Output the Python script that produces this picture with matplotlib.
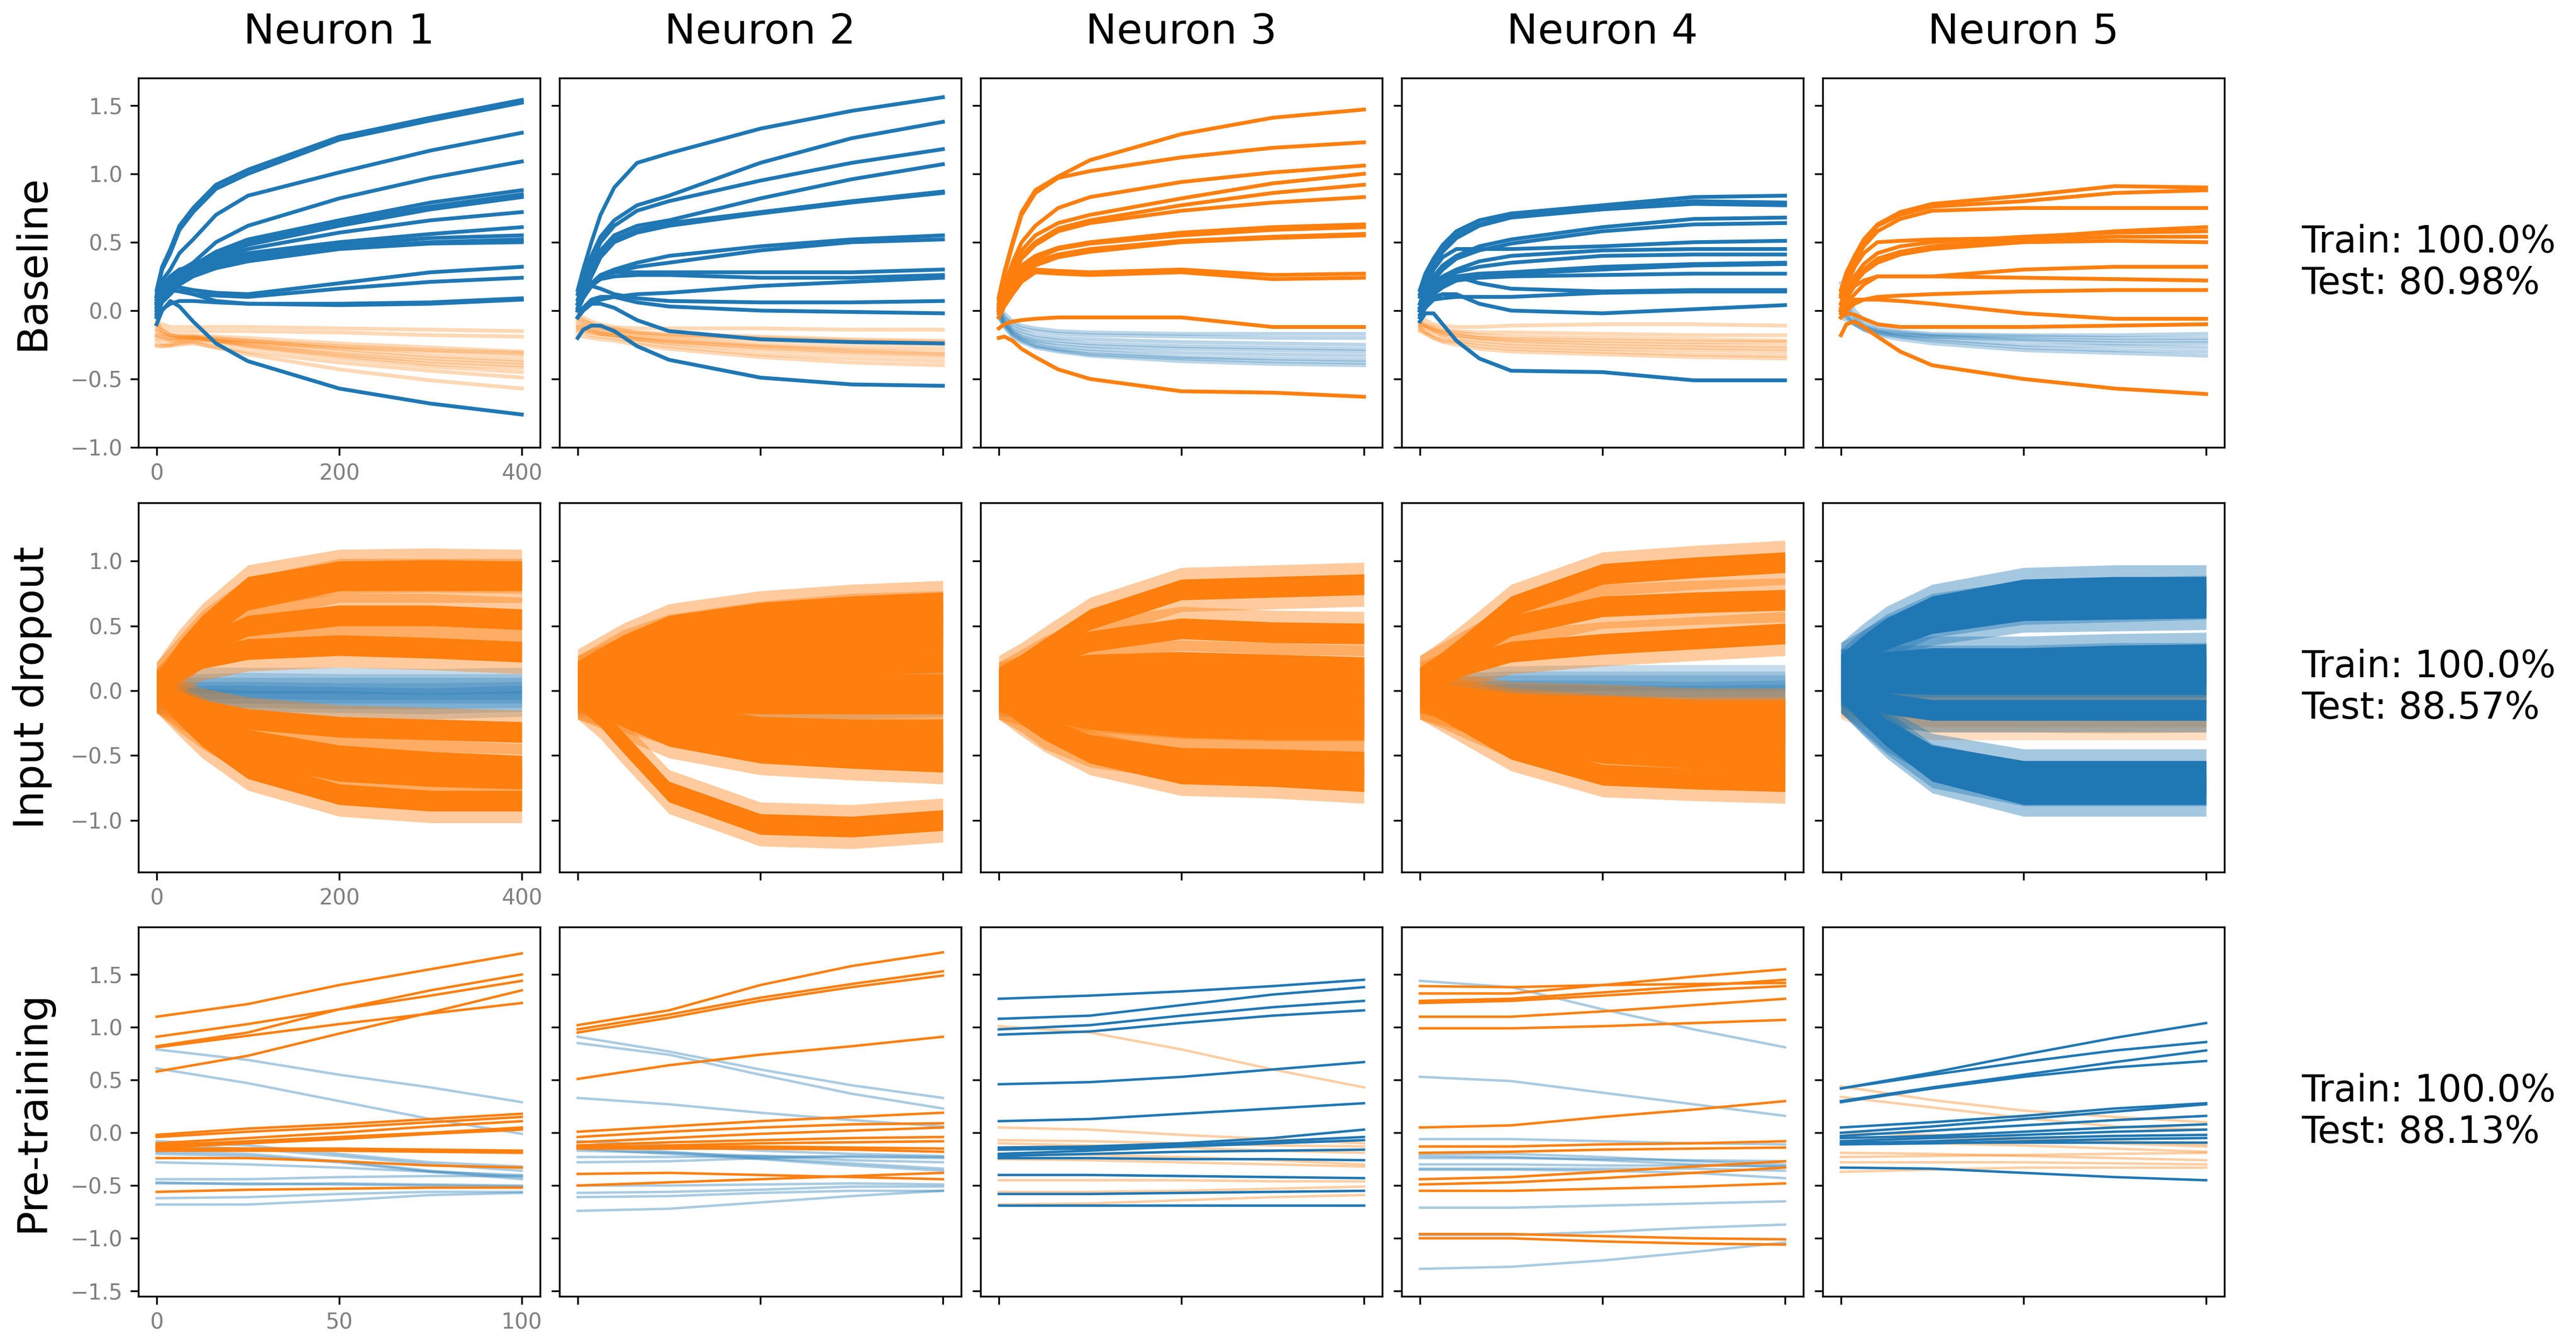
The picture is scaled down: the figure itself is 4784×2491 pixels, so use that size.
import matplotlib
matplotlib.use("Agg")
import matplotlib.pyplot as plt

BLUE = "#1f77b4"
ORANGE = "#ff7f0e"

neurons = ["Neuron 1", "Neuron 2", "Neuron 3", "Neuron 4", "Neuron 5"]
row_names = ["Baseline", "Input dropout", "Pre-training"]
scores = ["Train: 100.0%\nTest: 80.98%",
          "Train: 100.0%\nTest: 88.57%",
          "Train: 100.0%\nTest: 88.13%"]

base_epochs = [0, 6, 15, 25, 40, 65, 100, 200, 300, 400]
drop_epochs = [0, 25, 50, 100, 200, 300, 400]
pre_epochs = [0, 25, 50, 75, 100]

# ---------------- Baseline ----------------
base_n1_blue = [
    [0.15, 0.32, 0.45, 0.62, 0.75, 0.92, 1.03, 1.27, 1.41, 1.54],
    [0.12, 0.30, 0.42, 0.59, 0.72, 0.89, 1.00, 1.25, 1.39, 1.52],
    [0.10, 0.22, 0.30, 0.42, 0.52, 0.70, 0.84, 1.01, 1.17, 1.30],
    [0.05, 0.15, 0.22, 0.29, 0.35, 0.50, 0.62, 0.82, 0.97, 1.09],
    [0.02, 0.16, 0.25, 0.30, 0.33, 0.43, 0.52, 0.66, 0.79, 0.88],
    [0.00, 0.14, 0.22, 0.27, 0.31, 0.41, 0.50, 0.64, 0.76, 0.85],
    [-0.02, 0.12, 0.20, 0.26, 0.30, 0.40, 0.48, 0.62, 0.74, 0.83],
    [0.05, 0.13, 0.18, 0.25, 0.30, 0.38, 0.45, 0.57, 0.66, 0.72],
    [0.08, 0.18, 0.25, 0.30, 0.32, 0.37, 0.42, 0.50, 0.56, 0.61],
    [0.03, 0.13, 0.20, 0.26, 0.30, 0.35, 0.40, 0.48, 0.53, 0.55],
    [0.00, 0.09, 0.15, 0.22, 0.28, 0.33, 0.38, 0.46, 0.50, 0.52],
    [-0.03, 0.06, 0.12, 0.19, 0.25, 0.31, 0.36, 0.45, 0.49, 0.50],
    [0.10, 0.15, 0.18, 0.17, 0.15, 0.13, 0.12, 0.20, 0.28, 0.32],
    [0.06, 0.12, 0.15, 0.14, 0.12, 0.11, 0.10, 0.16, 0.21, 0.24],
    [0.08, 0.15, 0.20, 0.17, 0.12, 0.07, 0.05, 0.05, 0.06, 0.09],
    [-0.05, 0.01, 0.05, 0.07, 0.07, 0.06, 0.05, 0.04, 0.05, 0.08],
    [-0.10, 0.00, 0.07, 0.03, -0.08, -0.24, -0.37, -0.57, -0.68, -0.76],
]
base_n1_orange = [
    [-0.08, -0.10, -0.12, -0.12, -0.12, -0.12, -0.12, -0.13, -0.14, -0.15],
    [-0.10, -0.13, -0.15, -0.15, -0.15, -0.15, -0.15, -0.16, -0.18, -0.19],
    [-0.12, -0.15, -0.18, -0.18, -0.18, -0.19, -0.20, -0.24, -0.27, -0.30],
    [-0.15, -0.17, -0.18, -0.19, -0.20, -0.21, -0.22, -0.26, -0.29, -0.31],
    [-0.18, -0.19, -0.20, -0.20, -0.20, -0.22, -0.24, -0.30, -0.35, -0.38],
    [-0.20, -0.21, -0.22, -0.21, -0.20, -0.22, -0.25, -0.32, -0.37, -0.40],
    [-0.10, -0.14, -0.18, -0.19, -0.19, -0.22, -0.26, -0.33, -0.39, -0.42],
    [-0.22, -0.24, -0.25, -0.23, -0.22, -0.24, -0.27, -0.35, -0.41, -0.45],
    [-0.25, -0.26, -0.26, -0.25, -0.24, -0.27, -0.30, -0.38, -0.44, -0.49],
    [-0.26, -0.26, -0.25, -0.24, -0.23, -0.27, -0.32, -0.43, -0.51, -0.57],
    [-0.14, -0.17, -0.20, -0.20, -0.19, -0.20, -0.22, -0.28, -0.33, -0.36],
    [-0.18, -0.20, -0.22, -0.22, -0.21, -0.22, -0.23, -0.27, -0.30, -0.33],
]
base_n2_blue = [
    [0.15, 0.30, 0.50, 0.70, 0.90, 1.08, 1.15, 1.33, 1.46, 1.56],
    [0.12, 0.25, 0.40, 0.54, 0.66, 0.77, 0.84, 1.08, 1.26, 1.38],
    [0.08, 0.20, 0.35, 0.50, 0.62, 0.73, 0.80, 0.95, 1.08, 1.18],
    [0.05, 0.16, 0.30, 0.44, 0.55, 0.62, 0.66, 0.82, 0.96, 1.07],
    [0.05, 0.15, 0.28, 0.41, 0.52, 0.59, 0.64, 0.72, 0.80, 0.87],
    [0.02, 0.13, 0.25, 0.39, 0.50, 0.57, 0.62, 0.71, 0.79, 0.86],
    [0.05, 0.12, 0.20, 0.26, 0.30, 0.35, 0.40, 0.47, 0.52, 0.55],
    [0.00, 0.09, 0.18, 0.24, 0.28, 0.32, 0.35, 0.44, 0.50, 0.52],
    [0.02, 0.12, 0.20, 0.25, 0.28, 0.28, 0.28, 0.28, 0.28, 0.30],
    [0.00, 0.10, 0.18, 0.23, 0.25, 0.26, 0.26, 0.24, 0.24, 0.26],
    [-0.05, 0.00, 0.05, 0.08, 0.10, 0.12, 0.13, 0.18, 0.21, 0.24],
    [0.00, 0.10, 0.18, 0.16, 0.12, 0.09, 0.07, 0.06, 0.06, 0.07],
    [-0.05, 0.02, 0.08, 0.10, 0.10, 0.06, 0.03, 0.00, -0.01, -0.02],
    [-0.05, 0.00, 0.05, 0.05, 0.02, -0.07, -0.15, -0.21, -0.23, -0.24],
    [-0.20, -0.14, -0.11, -0.11, -0.15, -0.26, -0.36, -0.49, -0.54, -0.55],
]
base_n2_orange = [
    [-0.02, -0.05, -0.08, -0.10, -0.12, -0.13, -0.13, -0.13, -0.14, -0.14],
    [-0.05, -0.07, -0.10, -0.12, -0.14, -0.16, -0.17, -0.19, -0.21, -0.22],
    [-0.08, -0.10, -0.12, -0.14, -0.15, -0.17, -0.19, -0.22, -0.24, -0.25],
    [-0.10, -0.11, -0.13, -0.15, -0.16, -0.19, -0.21, -0.25, -0.27, -0.28],
    [-0.12, -0.13, -0.15, -0.17, -0.18, -0.20, -0.22, -0.26, -0.29, -0.31],
    [-0.14, -0.15, -0.16, -0.17, -0.18, -0.21, -0.24, -0.29, -0.32, -0.34],
    [-0.15, -0.16, -0.18, -0.19, -0.20, -0.23, -0.26, -0.32, -0.35, -0.37],
    [-0.18, -0.19, -0.20, -0.21, -0.22, -0.25, -0.28, -0.34, -0.38, -0.40],
    [-0.06, -0.08, -0.10, -0.12, -0.13, -0.16, -0.18, -0.20, -0.22, -0.23],
    [-0.12, -0.13, -0.15, -0.17, -0.18, -0.21, -0.23, -0.27, -0.30, -0.32],
]
base_n3_orange = [
    [0.10, 0.28, 0.50, 0.72, 0.88, 0.98, 1.10, 1.29, 1.41, 1.47],
    [0.08, 0.26, 0.48, 0.70, 0.86, 0.97, 1.02, 1.12, 1.19, 1.23],
    [0.05, 0.18, 0.35, 0.50, 0.62, 0.75, 0.83, 0.94, 1.01, 1.06],
    [0.03, 0.15, 0.30, 0.44, 0.55, 0.64, 0.70, 0.82, 0.93, 1.00],
    [0.02, 0.14, 0.28, 0.40, 0.50, 0.60, 0.66, 0.77, 0.86, 0.92],
    [0.00, 0.12, 0.25, 0.38, 0.48, 0.58, 0.64, 0.73, 0.79, 0.83],
    [0.05, 0.15, 0.25, 0.33, 0.40, 0.46, 0.50, 0.57, 0.61, 0.63],
    [0.00, 0.11, 0.22, 0.31, 0.38, 0.45, 0.49, 0.55, 0.59, 0.61],
    [0.00, 0.10, 0.20, 0.29, 0.36, 0.41, 0.45, 0.51, 0.54, 0.56],
    [-0.05, 0.06, 0.18, 0.26, 0.33, 0.39, 0.43, 0.50, 0.53, 0.55],
    [-0.02, 0.06, 0.15, 0.24, 0.30, 0.29, 0.28, 0.30, 0.26, 0.27],
    [-0.05, 0.03, 0.12, 0.21, 0.28, 0.27, 0.26, 0.28, 0.23, 0.24],
    [-0.13, -0.10, -0.08, -0.07, -0.06, -0.05, -0.05, -0.05, -0.12, -0.12],
    [-0.20, -0.19, -0.22, -0.28, -0.34, -0.43, -0.50, -0.59, -0.60, -0.63],
]
base_n3_blue = [
    [0.05, -0.02, -0.08, -0.11, -0.13, -0.15, -0.16, -0.17, -0.17, -0.17],
    [0.00, -0.05, -0.10, -0.13, -0.15, -0.17, -0.18, -0.19, -0.20, -0.20],
    [0.02, -0.05, -0.12, -0.15, -0.18, -0.20, -0.21, -0.23, -0.24, -0.25],
    [-0.02, -0.08, -0.14, -0.17, -0.20, -0.22, -0.24, -0.26, -0.27, -0.28],
    [0.00, -0.08, -0.15, -0.19, -0.22, -0.24, -0.26, -0.28, -0.29, -0.30],
    [-0.05, -0.10, -0.16, -0.20, -0.23, -0.26, -0.28, -0.31, -0.32, -0.33],
    [0.00, -0.09, -0.17, -0.21, -0.25, -0.28, -0.30, -0.34, -0.35, -0.36],
    [-0.03, -0.11, -0.18, -0.22, -0.26, -0.29, -0.32, -0.35, -0.37, -0.38],
    [-0.05, -0.12, -0.19, -0.23, -0.27, -0.30, -0.33, -0.37, -0.39, -0.40],
]
base_n4_blue = [
    [0.15, 0.27, 0.38, 0.48, 0.58, 0.66, 0.71, 0.77, 0.83, 0.84],
    [0.12, 0.24, 0.35, 0.45, 0.55, 0.63, 0.69, 0.75, 0.80, 0.79],
    [0.10, 0.22, 0.33, 0.43, 0.53, 0.62, 0.68, 0.74, 0.78, 0.77],
    [0.05, 0.15, 0.25, 0.33, 0.40, 0.47, 0.52, 0.61, 0.67, 0.68],
    [0.02, 0.12, 0.22, 0.30, 0.38, 0.44, 0.49, 0.58, 0.63, 0.64],
    [0.05, 0.18, 0.30, 0.39, 0.45, 0.45, 0.45, 0.47, 0.50, 0.51],
    [0.00, 0.10, 0.20, 0.25, 0.30, 0.36, 0.40, 0.44, 0.45, 0.45],
    [0.00, 0.09, 0.18, 0.23, 0.28, 0.32, 0.35, 0.40, 0.41, 0.41],
    [0.00, 0.08, 0.15, 0.20, 0.25, 0.27, 0.28, 0.32, 0.34, 0.35],
    [-0.03, 0.05, 0.12, 0.17, 0.22, 0.25, 0.27, 0.30, 0.33, 0.34],
    [0.00, 0.08, 0.15, 0.19, 0.22, 0.24, 0.25, 0.26, 0.27, 0.27],
    [0.02, 0.07, 0.12, 0.19, 0.25, 0.20, 0.16, 0.14, 0.15, 0.15],
    [-0.05, 0.02, 0.08, 0.09, 0.10, 0.10, 0.10, 0.13, 0.14, 0.14],
    [0.00, 0.05, 0.10, 0.12, 0.12, 0.05, 0.00, -0.02, 0.01, 0.04],
    [-0.08, -0.02, -0.02, -0.10, -0.22, -0.35, -0.44, -0.45, -0.51, -0.51],
]
base_n4_orange = [
    [-0.05, -0.07, -0.10, -0.11, -0.12, -0.12, -0.11, -0.10, -0.10, -0.11],
    [-0.08, -0.10, -0.12, -0.14, -0.15, -0.16, -0.16, -0.17, -0.18, -0.18],
    [-0.10, -0.11, -0.13, -0.15, -0.16, -0.18, -0.19, -0.20, -0.21, -0.22],
    [-0.12, -0.13, -0.15, -0.17, -0.18, -0.20, -0.21, -0.22, -0.23, -0.23],
    [-0.10, -0.12, -0.15, -0.18, -0.20, -0.22, -0.24, -0.26, -0.27, -0.28],
    [-0.14, -0.16, -0.18, -0.20, -0.22, -0.24, -0.26, -0.28, -0.29, -0.30],
    [-0.15, -0.17, -0.20, -0.22, -0.23, -0.26, -0.28, -0.30, -0.32, -0.33],
    [-0.12, -0.16, -0.20, -0.23, -0.25, -0.28, -0.30, -0.32, -0.34, -0.35],
    [-0.08, -0.11, -0.14, -0.16, -0.18, -0.20, -0.22, -0.24, -0.25, -0.26],
]
base_n5_orange = [
    [0.15, 0.28, 0.40, 0.52, 0.63, 0.72, 0.78, 0.84, 0.91, 0.90],
    [0.12, 0.25, 0.38, 0.50, 0.62, 0.70, 0.76, 0.80, 0.86, 0.88],
    [0.10, 0.23, 0.36, 0.47, 0.58, 0.67, 0.73, 0.75, 0.75, 0.75],
    [0.05, 0.18, 0.32, 0.42, 0.50, 0.51, 0.52, 0.53, 0.58, 0.61],
    [0.00, 0.12, 0.25, 0.34, 0.42, 0.47, 0.50, 0.54, 0.57, 0.58],
    [0.02, 0.12, 0.22, 0.30, 0.38, 0.43, 0.47, 0.52, 0.54, 0.54],
    [-0.02, 0.09, 0.20, 0.28, 0.35, 0.41, 0.45, 0.50, 0.51, 0.50],
    [0.00, 0.09, 0.18, 0.22, 0.25, 0.25, 0.25, 0.30, 0.32, 0.32],
    [0.00, 0.06, 0.12, 0.19, 0.25, 0.25, 0.25, 0.24, 0.23, 0.22],
    [-0.05, 0.00, 0.05, 0.08, 0.10, 0.11, 0.12, 0.14, 0.15, 0.15],
    [-0.05, 0.02, 0.08, 0.08, 0.08, 0.07, 0.05, -0.02, -0.06, -0.06],
    [-0.05, -0.02, -0.03, -0.06, -0.10, -0.12, -0.12, -0.12, -0.11, -0.10],
    [-0.18, -0.10, -0.08, -0.12, -0.19, -0.30, -0.40, -0.50, -0.57, -0.61],
]
base_n5_blue = [
    [0.20, 0.10, 0.00, -0.07, -0.12, -0.15, -0.17, -0.18, -0.18, -0.17],
    [0.10, 0.03, -0.05, -0.10, -0.14, -0.16, -0.18, -0.19, -0.20, -0.20],
    [0.00, -0.04, -0.08, -0.12, -0.15, -0.17, -0.19, -0.21, -0.22, -0.22],
    [0.05, -0.02, -0.10, -0.13, -0.16, -0.18, -0.19, -0.22, -0.24, -0.24],
    [-0.05, -0.07, -0.10, -0.14, -0.17, -0.19, -0.21, -0.25, -0.26, -0.27],
    [0.15, 0.05, -0.05, -0.11, -0.15, -0.19, -0.22, -0.27, -0.29, -0.30],
    [0.00, -0.05, -0.10, -0.14, -0.18, -0.21, -0.24, -0.29, -0.31, -0.33],
]

# ---------------- Input dropout (centre of each noisy trace) ----------------
drop_n1_orange = [
    [0.05, 0.30, 0.50, 0.80, 0.92, 0.93, 0.92],
    [0.05, 0.25, 0.45, 0.70, 0.85, 0.85, 0.85],
    [0.00, 0.20, 0.35, 0.50, 0.58, 0.58, 0.55],
    [0.00, 0.15, 0.25, 0.32, 0.35, 0.33, 0.30],
    [0.00, -0.08, -0.15, -0.22, -0.28, -0.30, -0.32],
    [0.00, -0.12, -0.22, -0.38, -0.50, -0.55, -0.58],
    [0.00, -0.15, -0.28, -0.48, -0.62, -0.66, -0.68],
    [0.00, -0.18, -0.35, -0.60, -0.80, -0.85, -0.85],
]
drop_n1_blue = [
    [0.05, 0.07, 0.08, 0.08, 0.08, 0.07, 0.08],
    [0.02, 0.03, 0.03, 0.04, 0.03, 0.03, 0.03],
    [0.00, 0.00, 0.00, 0.00, 0.00, 0.00, 0.00],
    [-0.02, -0.03, -0.03, -0.03, -0.04, -0.04, -0.03],
    [-0.05, -0.06, -0.06, -0.06, -0.07, -0.08, -0.06],
    [-0.08, -0.08, -0.08, -0.10, -0.10, -0.12, -0.10],
]
drop_n2_orange = [
    [0.15, 0.25, 0.35, 0.50, 0.60, 0.65, 0.68],
    [0.10, 0.20, 0.30, 0.42, 0.52, 0.58, 0.60],
    [0.10, 0.18, 0.25, 0.35, 0.45, 0.50, 0.50],
    [0.05, 0.10, 0.15, 0.25, 0.30, 0.35, 0.38],
    [0.05, 0.08, 0.10, 0.12, 0.18, 0.20, 0.22],
    [0.00, 0.03, 0.05, 0.02, 0.05, 0.05, 0.05],
    [0.00, -0.03, -0.05, -0.08, -0.10, -0.10, -0.10],
    [0.00, -0.05, -0.10, -0.18, -0.28, -0.30, -0.30],
    [-0.05, -0.10, -0.15, -0.25, -0.38, -0.42, -0.45],
    [-0.05, -0.12, -0.20, -0.35, -0.48, -0.52, -0.55],
    [-0.05, -0.20, -0.40, -0.78, -1.03, -1.05, -1.00],
]
drop_n2_blue = [
    [0.05, 0.05, 0.05, 0.05, 0.06, 0.06, 0.05],
    [0.00, 0.00, 0.00, 0.00, 0.00, 0.00, 0.00],
    [-0.05, -0.05, -0.05, -0.06, -0.06, -0.07, -0.06],
    [-0.10, -0.10, -0.10, -0.10, -0.12, -0.12, -0.10],
]
drop_n3_orange = [
    [0.10, 0.20, 0.32, 0.55, 0.78, 0.80, 0.82],
    [0.05, 0.15, 0.25, 0.38, 0.48, 0.45, 0.44],
    [0.05, 0.10, 0.15, 0.20, 0.22, 0.20, 0.18],
    [0.00, 0.05, 0.08, 0.10, 0.08, 0.08, 0.08],
    [0.00, 0.00, 0.00, -0.02, 0.00, 0.00, -0.02],
    [0.00, -0.03, -0.05, -0.08, -0.10, -0.10, -0.10],
    [0.00, -0.05, -0.10, -0.15, -0.20, -0.22, -0.22],
    [-0.05, -0.10, -0.15, -0.22, -0.28, -0.30, -0.30],
    [-0.05, -0.15, -0.28, -0.42, -0.52, -0.53, -0.55],
    [-0.05, -0.18, -0.30, -0.48, -0.64, -0.66, -0.70],
]
drop_n3_blue = [
    [0.05, 0.05, 0.05, 0.05, 0.05, 0.05, 0.05],
    [0.00, 0.00, 0.00, 0.00, 0.00, 0.00, 0.00],
    [-0.05, -0.05, -0.06, -0.06, -0.07, -0.06, -0.06],
    [-0.10, -0.11, -0.12, -0.12, -0.14, -0.14, -0.12],
]
drop_n4_orange = [
    [0.10, 0.22, 0.36, 0.65, 0.90, 0.95, 0.99],
    [0.10, 0.20, 0.30, 0.50, 0.65, 0.68, 0.70],
    [0.05, 0.12, 0.20, 0.30, 0.36, 0.40, 0.44],
    [0.00, -0.03, -0.05, -0.10, -0.12, -0.15, -0.15],
    [0.00, -0.05, -0.08, -0.15, -0.20, -0.22, -0.22],
    [0.00, -0.06, -0.10, -0.18, -0.25, -0.28, -0.30],
    [-0.05, -0.10, -0.15, -0.25, -0.35, -0.38, -0.40],
    [-0.05, -0.12, -0.20, -0.35, -0.48, -0.52, -0.55],
    [-0.05, -0.15, -0.25, -0.45, -0.65, -0.68, -0.70],
]
drop_n4_blue = [
    [0.08, 0.08, 0.08, 0.09, 0.10, 0.10, 0.10],
    [0.04, 0.04, 0.04, 0.05, 0.05, 0.05, 0.05],
    [0.00, 0.00, 0.01, 0.02, 0.02, 0.02, 0.02],
    [-0.04, -0.04, -0.03, -0.02, -0.02, -0.03, -0.02],
    [-0.08, -0.07, -0.06, -0.05, -0.06, -0.06, -0.05],
]
drop_n5_blue = [
    [0.20, 0.35, 0.48, 0.65, 0.78, 0.80, 0.80],
    [0.15, 0.30, 0.42, 0.58, 0.68, 0.70, 0.72],
    [0.20, 0.30, 0.40, 0.52, 0.62, 0.63, 0.64],
    [0.15, 0.18, 0.22, 0.25, 0.25, 0.27, 0.28],
    [0.15, 0.16, 0.18, 0.18, 0.18, 0.20, 0.20],
    [0.10, 0.11, 0.12, 0.12, 0.12, 0.12, 0.12],
    [0.05, 0.06, 0.06, 0.05, 0.05, 0.05, 0.05],
    [0.05, -0.05, -0.10, -0.15, -0.15, -0.15, -0.15],
    [0.00, -0.15, -0.30, -0.50, -0.62, -0.62, -0.62],
    [0.00, -0.17, -0.32, -0.58, -0.72, -0.72, -0.72],
    [0.00, -0.18, -0.35, -0.62, -0.80, -0.80, -0.80],
]
drop_n5_orange = [
    [0.00, -0.01, -0.02, -0.02, -0.03, -0.02, -0.02],
    [-0.02, -0.04, -0.06, -0.08, -0.08, -0.08, -0.08],
    [-0.05, -0.08, -0.10, -0.12, -0.12, -0.13, -0.12],
    [-0.08, -0.12, -0.15, -0.18, -0.18, -0.18, -0.18],
    [-0.10, -0.15, -0.18, -0.22, -0.22, -0.23, -0.22],
    [-0.12, -0.18, -0.22, -0.28, -0.28, -0.28, -0.28],
]

# ---------------- Pre-training ----------------
pre_n1_orange = [
    [1.10, 1.22, 1.40, 1.55, 1.70],
    [0.91, 1.03, 1.17, 1.30, 1.44],
    [0.82, 0.95, 1.17, 1.35, 1.50],
    [0.81, 0.92, 1.03, 1.13, 1.23],
    [0.58, 0.73, 0.94, 1.14, 1.35],
    [-0.02, 0.04, 0.08, 0.13, 0.18],
    [-0.04, 0.01, 0.05, 0.10, 0.15],
    [-0.10, -0.05, 0.00, 0.06, 0.11],
    [-0.12, -0.08, -0.04, 0.00, 0.05],
    [-0.14, -0.10, -0.06, -0.01, 0.03],
    [-0.15, -0.15, -0.15, -0.16, -0.17],
    [-0.17, -0.17, -0.17, -0.18, -0.19],
    [-0.24, -0.24, -0.27, -0.31, -0.33],
    [-0.56, -0.54, -0.53, -0.52, -0.52],
]
pre_n1_blue = [
    [0.79, 0.69, 0.55, 0.43, 0.29],
    [0.61, 0.47, 0.30, 0.13, -0.01],
    [-0.08, -0.12, -0.20, -0.28, -0.32],
    [-0.12, -0.15, -0.22, -0.30, -0.36],
    [-0.18, -0.20, -0.27, -0.36, -0.42],
    [-0.20, -0.22, -0.28, -0.37, -0.44],
    [-0.28, -0.30, -0.33, -0.37, -0.40],
    [-0.44, -0.44, -0.42, -0.41, -0.41],
    [-0.47, -0.49, -0.48, -0.49, -0.50],
    [-0.48, -0.48, -0.49, -0.50, -0.51],
    [-0.62, -0.61, -0.58, -0.56, -0.56],
    [-0.68, -0.68, -0.64, -0.59, -0.57],
]
pre_n2_orange = [
    [1.02, 1.16, 1.40, 1.58, 1.71],
    [0.98, 1.12, 1.28, 1.41, 1.53],
    [0.95, 1.09, 1.25, 1.38, 1.49],
    [0.51, 0.64, 0.74, 0.82, 0.91],
    [0.01, 0.06, 0.11, 0.15, 0.19],
    [-0.04, 0.01, 0.05, 0.08, 0.09],
    [-0.09, -0.05, -0.01, 0.02, 0.05],
    [-0.12, -0.09, -0.07, -0.05, -0.04],
    [-0.14, -0.12, -0.10, -0.09, -0.08],
    [-0.13, -0.13, -0.13, -0.14, -0.15],
    [-0.15, -0.15, -0.15, -0.16, -0.18],
    [-0.39, -0.38, -0.40, -0.42, -0.44],
    [-0.50, -0.47, -0.44, -0.41, -0.38],
]
pre_n2_blue = [
    [0.91, 0.77, 0.60, 0.45, 0.33],
    [0.85, 0.74, 0.55, 0.37, 0.23],
    [0.33, 0.27, 0.19, 0.12, 0.06],
    [-0.08, -0.12, -0.17, -0.20, -0.22],
    [-0.12, -0.18, -0.24, -0.29, -0.34],
    [-0.15, -0.20, -0.25, -0.31, -0.36],
    [-0.17, -0.19, -0.22, -0.26, -0.28],
    [-0.23, -0.23, -0.22, -0.23, -0.24],
    [-0.28, -0.27, -0.24, -0.22, -0.23],
    [-0.50, -0.50, -0.49, -0.48, -0.49],
    [-0.57, -0.56, -0.54, -0.51, -0.51],
    [-0.61, -0.60, -0.57, -0.55, -0.55],
    [-0.74, -0.72, -0.66, -0.60, -0.55],
]
pre_n3_blue = [
    [1.27, 1.30, 1.34, 1.39, 1.45],
    [1.08, 1.11, 1.21, 1.31, 1.38],
    [0.98, 1.02, 1.11, 1.19, 1.25],
    [0.93, 0.96, 1.04, 1.11, 1.16],
    [0.46, 0.48, 0.53, 0.60, 0.67],
    [0.11, 0.13, 0.18, 0.23, 0.28],
    [-0.14, -0.13, -0.10, -0.05, 0.03],
    [-0.16, -0.15, -0.12, -0.08, -0.04],
    [-0.20, -0.17, -0.13, -0.10, -0.07],
    [-0.22, -0.20, -0.18, -0.17, -0.16],
    [-0.24, -0.24, -0.25, -0.25, -0.26],
    [-0.40, -0.40, -0.41, -0.42, -0.43],
    [-0.58, -0.58, -0.57, -0.56, -0.55],
    [-0.69, -0.69, -0.69, -0.69, -0.69],
]
pre_n3_orange = [
    [1.01, 0.95, 0.79, 0.60, 0.43],
    [0.05, 0.03, -0.02, -0.06, -0.10],
    [-0.07, -0.08, -0.10, -0.12, -0.13],
    [-0.10, -0.12, -0.14, -0.17, -0.19],
    [-0.20, -0.21, -0.23, -0.26, -0.30],
    [-0.25, -0.26, -0.28, -0.30, -0.32],
    [-0.45, -0.45, -0.45, -0.46, -0.46],
    [-0.56, -0.56, -0.55, -0.53, -0.51],
    [-0.68, -0.67, -0.64, -0.61, -0.59],
]
pre_n4_orange = [
    [1.39, 1.38, 1.40, 1.41, 1.42],
    [1.32, 1.32, 1.40, 1.48, 1.55],
    [1.25, 1.27, 1.33, 1.39, 1.45],
    [1.23, 1.25, 1.30, 1.35, 1.39],
    [1.10, 1.10, 1.15, 1.21, 1.27],
    [0.99, 0.99, 1.01, 1.04, 1.07],
    [0.05, 0.07, 0.15, 0.22, 0.30],
    [-0.13, -0.13, -0.11, -0.10, -0.08],
    [-0.19, -0.18, -0.16, -0.15, -0.14],
    [-0.44, -0.42, -0.37, -0.32, -0.27],
    [-0.49, -0.47, -0.43, -0.38, -0.33],
    [-0.55, -0.55, -0.53, -0.51, -0.48],
    [-0.96, -0.96, -0.98, -1.00, -1.01],
    [-1.00, -1.00, -1.03, -1.05, -1.06],
]
pre_n4_blue = [
    [1.44, 1.38, 1.17, 0.98, 0.81],
    [0.53, 0.49, 0.38, 0.27, 0.16],
    [-0.06, -0.06, -0.08, -0.10, -0.11],
    [-0.20, -0.20, -0.23, -0.27, -0.30],
    [-0.22, -0.23, -0.26, -0.30, -0.32],
    [-0.24, -0.24, -0.25, -0.26, -0.27],
    [-0.30, -0.30, -0.31, -0.31, -0.32],
    [-0.34, -0.34, -0.34, -0.34, -0.36],
    [-0.35, -0.35, -0.36, -0.38, -0.43],
    [-0.71, -0.71, -0.69, -0.67, -0.65],
    [-0.97, -0.97, -0.94, -0.90, -0.87],
    [-1.29, -1.27, -1.21, -1.13, -1.04],
]
pre_n5_blue = [
    [0.42, 0.57, 0.74, 0.90, 1.04],
    [0.42, 0.55, 0.67, 0.78, 0.86],
    [0.30, 0.43, 0.55, 0.67, 0.78],
    [0.29, 0.42, 0.53, 0.62, 0.68],
    [0.05, 0.10, 0.16, 0.23, 0.28],
    [0.00, 0.06, 0.13, 0.20, 0.27],
    [-0.03, 0.02, 0.07, 0.12, 0.16],
    [-0.05, -0.03, 0.01, 0.05, 0.08],
    [-0.08, -0.05, -0.02, 0.01, 0.03],
    [-0.10, -0.08, -0.05, -0.03, -0.02],
    [-0.11, -0.10, -0.08, -0.06, -0.05],
    [-0.09, -0.09, -0.09, -0.09, -0.09],
    [-0.33, -0.34, -0.38, -0.42, -0.45],
]
pre_n5_orange = [
    [0.44, 0.31, 0.21, 0.15, 0.10],
    [0.34, 0.24, 0.14, 0.06, 0.03],
    [0.00, -0.02, -0.05, -0.08, -0.11],
    [-0.05, -0.05, -0.07, -0.10, -0.13],
    [-0.10, -0.10, -0.12, -0.15, -0.18],
    [-0.19, -0.20, -0.22, -0.24, -0.26],
    [-0.23, -0.22, -0.21, -0.20, -0.19],
    [-0.37, -0.35, -0.33, -0.33, -0.33],
    [-0.28, -0.28, -0.28, -0.29, -0.30],
]

# (strong colour, strong traces, faded colour, faded traces) per panel
panels = [
    [(BLUE, base_n1_blue, ORANGE, base_n1_orange),
     (BLUE, base_n2_blue, ORANGE, base_n2_orange),
     (ORANGE, base_n3_orange, BLUE, base_n3_blue),
     (BLUE, base_n4_blue, ORANGE, base_n4_orange),
     (ORANGE, base_n5_orange, BLUE, base_n5_blue)],
    [(ORANGE, drop_n1_orange, BLUE, drop_n1_blue),
     (ORANGE, drop_n2_orange, BLUE, drop_n2_blue),
     (ORANGE, drop_n3_orange, BLUE, drop_n3_blue),
     (ORANGE, drop_n4_orange, BLUE, drop_n4_blue),
     (BLUE, drop_n5_blue, ORANGE, drop_n5_orange)],
    [(ORANGE, pre_n1_orange, BLUE, pre_n1_blue),
     (ORANGE, pre_n2_orange, BLUE, pre_n2_blue),
     (BLUE, pre_n3_blue, ORANGE, pre_n3_orange),
     (ORANGE, pre_n4_orange, BLUE, pre_n4_blue),
     (BLUE, pre_n5_blue, ORANGE, pre_n5_orange)],
]
row_epochs = [base_epochs, drop_epochs, pre_epochs]
row_ylim = [(-1.0, 1.7), (-1.40, 1.45), (-1.55, 1.95)]
row_yticks = [[-1.0, -0.5, 0.0, 0.5, 1.0, 1.5],
              [-1.0, -0.5, 0.0, 0.5, 1.0],
              [-1.5, -1.0, -0.5, 0.0, 0.5, 1.0, 1.5]]
row_xticks = [[0, 200, 400], [0, 200, 400], [0, 50, 100]]
row_xlim = [(-20, 420), (-20, 420), (-5, 105)]

W, H = 4784, 2491
DPI = 300
fig = plt.figure(figsize=(W / DPI, H / DPI), dpi=DPI)

lefts = [257 + i * 782 for i in range(5)]
tops = [145, 934, 1722]
pw, ph = 746, 686
# dropout noise: dense core plus a sparser spike halo around each trace
core, halo, faded_band = 0.08, 0.17, 0.10

for r in range(3):
    first = None
    for c in range(5):
        rect = [lefts[c] / W, 1 - (tops[r] + ph) / H, pw / W, ph / H]
        ax = fig.add_axes(rect, sharex=first, sharey=first)
        if first is None:
            first = ax
        strong_col, strong, faded_col, faded = panels[r][c]
        x = row_epochs[r]
        if r == 1:
            for tr in faded:
                ax.fill_between(x, [v - faded_band for v in tr],
                                [v + faded_band for v in tr],
                                color=faded_col, alpha=0.25, lw=0)
            for tr in strong:
                ax.fill_between(x, [v - halo for v in tr], [v + halo for v in tr],
                                color=strong_col, alpha=0.4, lw=0)
            for tr in strong:
                ax.fill_between(x, [v - core for v in tr], [v + core for v in tr],
                                color=strong_col, lw=0)
        else:
            lw = 1.7 if r == 0 else 1.1
            fa = 0.3 if r == 0 else 0.38
            for tr in faded:
                ax.plot(x, tr, color=faded_col, alpha=fa, lw=lw)
            for tr in strong:
                ax.plot(x, tr, color=strong_col, lw=lw)

        ax.set_xlim(*row_xlim[r])
        ax.set_ylim(*row_ylim[r])
        ax.set_xticks(row_xticks[r])
        ax.set_yticks(row_yticks[r])
        ax.tick_params(labelsize=9.6, labelcolor="#808080")
        if c > 0:
            ax.tick_params(labelleft=False, labelbottom=False)

    yc = 1 - (tops[r] + ph / 2) / H
    fig.text(60 / W, yc, row_names[r], rotation=90, ha="center", va="center",
             fontsize=18.5)
    fig.text(4274 / W, yc, scores[r], ha="left", va="center", fontsize=16.5,
             linespacing=1.2)

for c in range(5):
    fig.text((lefts[c] + pw / 2) / W, 1 - 81 / H, neurons[c], ha="center",
             va="baseline", fontsize=18.6)

fig.savefig("out.png", dpi=DPI)
